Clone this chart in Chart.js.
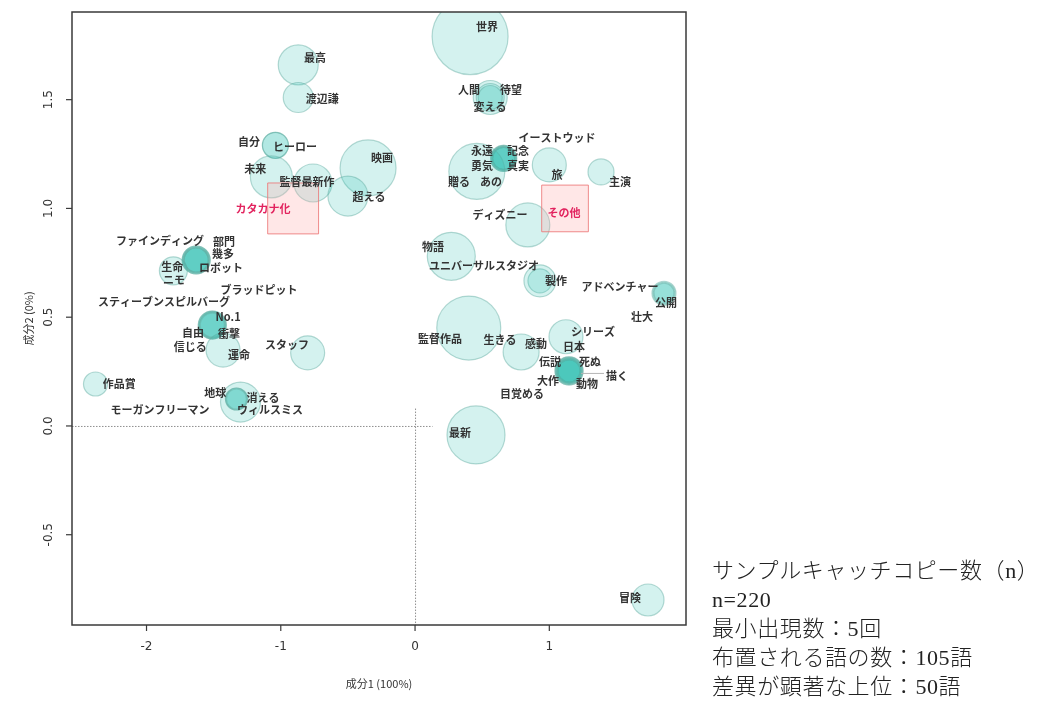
<!DOCTYPE html>
<html lang="ja">
<head>
<meta charset="utf-8">
<title>対応分析 バブルプロット</title>
<script src="https://cdn.jsdelivr.net/npm/chart.js@4/dist/chart.umd.min.js"></script>
<style>
  html, body { margin: 0; padding: 0; background: #fff; }
  #wrap { position: relative; width: 1059px; height: 702px; overflow: hidden; }
  #plot { position: absolute; left: 0; top: 0; }
  #note {
    position: absolute; left: 712px; top: 556px;
    font-family: "Liberation Serif", "Noto Sans CJK JP", serif;
    font-weight: 300; font-size: 22px; line-height: 29px; color: #222;
    letter-spacing: 0.6px; white-space: nowrap;
  }
</style>
</head>
<body>
<div id="wrap">
  <canvas id="plot" width="1059" height="702"></canvas>
  <div id="note">
    <div>サンプルキャッチコピー数（n）</div>
    <div>n=220</div>
    <div>最小出現数：5回</div>
    <div>布置される語の数：105語</div>
    <div>差異が顕著な上位：50語</div>
  </div>
</div>
<script>
// 語（行）: 座標は成分1 / 成分2、size はバブル半径
const words = [
  '世界', '最高', '渡辺謙', '自分', 'ヒーロー', '未来', '監督最新作', '映画', '超える',
  'ファインディング', '部門', '幾多', 'ロボット', 'ニモ', 'ブラッドピット', '生命',
  'スティーブンスピルバーグ', 'No.1', '自由', '衝撃', '運命', '信じる', 'スタッフ', '作品賞',
  '地球', '消える', 'ウィルスミス', 'モーガンフリーマン',
  '人間', '待望', '変える', 'イーストウッド', '旅', '永遠', '記念', '勇気', '真実', '贈る', 'あの', '主演',
  'ディズニー', '物語', 'ユニバーサルスタジオ', '製作', 'アドベンチャー', '公開', '壮大',
  '監督作品', '生きる', '感動', 'シリーズ', '日本', '伝説', '死ぬ', '大作', '動物', '描く', '目覚める',
  '最新', '冒険'
];
const comp1 = [
  0.41, -0.87, -0.87, -1.04, -1.04, -1.07, -0.76, -0.35, -0.50,
  -1.63, -1.63, -1.63, -1.63, -1.63, -1.63, -1.80,
  -1.51, -1.51, -1.51, -1.51, -1.51, -1.43, -0.80, -2.38,
  -1.30, -1.33, -1.33, -1.33,
  0.56, 0.56, 0.56, 0.66, 1.00, 0.66, 0.66, 0.66, 0.66, 0.46, 0.66, 1.385,
  0.84, 0.27, 0.93, 0.93, 1.854, 1.854, 1.854,
  0.40, 0.79, 1.147, 1.124, 1.147, 1.147, 1.147, 1.147, 1.147, 1.147, 1.147,
  0.454, 1.735
];
const comp2 = [
  1.79, 1.66, 1.51, 1.29, 1.29, 1.145, 1.117, 1.186, 1.057,
  0.763, 0.763, 0.763, 0.763, 0.763, 0.763, 0.713,
  0.464, 0.464, 0.464, 0.464, 0.464, 0.349, 0.336, 0.193,
  0.11, 0.124, 0.124, 0.124,
  1.51, 1.51, 1.51, 1.23, 1.20, 1.23, 1.23, 1.23, 1.23, 1.17, 1.23, 1.168,
  0.924, 0.78, 0.667, 0.667, 0.61, 0.61, 0.61,
  0.45, 0.34, 0.253, 0.41, 0.253, 0.253, 0.253, 0.253, 0.253, 0.253, 0.253,
  -0.041, -0.80
];
const size = [
  38, 20, 15, 13, 13, 21, 19, 28, 20,
  14, 14, 13, 13, 12, 12, 14,
  13, 14, 14, 13, 12, 17, 17, 12,
  20, 11, 11, 10,
  17, 14, 12, 11, 17, 13, 13, 12, 12, 28, 11, 13,
  22, 24, 12, 16, 12, 11, 10,
  32, 18, 12, 17, 11, 14, 14, 13, 13, 12, 11,
  29, 16
];
// ラベル位置（成分1 / 成分2）
const labelX = [
  0.536, -0.745, -0.692, -1.236, -0.894, -1.191, -0.804, -0.246, -0.343,
  -1.899, -1.422, -1.43, -1.445, -1.795, -1.162, -1.809,
  -1.869, -1.392, -1.653, -1.385, -1.311, -1.675, -0.953, -2.204,
  -1.489, -1.132, -1.080, -1.899,
  0.402, 0.715, 0.558, 1.057, 1.057, 0.499, 0.767, 0.499, 0.767, 0.328, 0.566, 1.526,
  0.633, 0.134, 0.514, 1.050, 1.526, 1.869, 1.690,
  0.186, 0.633, 0.901, 1.325, 1.184, 1.005, 1.303, 0.990, 1.281, 1.504, 0.797,
  0.335, 1.601
];
const labelY = [
  1.834, 1.692, 1.503, 1.306, 1.283, 1.182, 1.122, 1.232, 1.053,
  0.851, 0.846, 0.791, 0.726, 0.671, 0.625, 0.731,
  0.570, 0.501, 0.428, 0.423, 0.326, 0.363, 0.372, 0.193,
  0.152, 0.129, 0.074, 0.074,
  1.545, 1.545, 1.467, 1.324, 1.154, 1.264, 1.264, 1.195, 1.195, 1.122, 1.122, 1.122,
  0.970, 0.823, 0.736, 0.667, 0.639, 0.566, 0.501,
  0.400, 0.395, 0.377, 0.432, 0.363, 0.294, 0.294, 0.207, 0.193, 0.230, 0.147,
  -0.032, -0.791
];
const leaderWords = ['描く'];

// 列（カテゴリ）
const groups = ['カタカナ化', 'その他'];
const groupX = [-0.908, 1.117];
const groupY = [1.0, 1.0];
const groupSize = [36, 33];
const groupLabelX = [-1.132, 1.109];
const groupLabelY = [0.998, 0.979];

// 軸
const xMin = -2.555, xMax = 2.018;
const yMin = -0.915, yMax = 1.903;
const xTicks = [-2, -1, 0, 1];
const yTicks = [-0.5, 0, 0.5, 1, 1.5];
const xTitle = '成分1 (100%)';
const yTitle = '成分2 (0%)';
const refLineX = [xMin, 0.13];   // y=0 の点線の範囲
const refLineY = [0.08, yMin];   // x=0 の点線の範囲

const labelFont = 'bold 11px "Noto Sans CJK JP", "Noto Sans", sans-serif';
const tickFont = '12px "DejaVu Sans", sans-serif';
const titleFont = '11px "Noto Sans CJK JP", "DejaVu Sans", sans-serif';

const rAxes = {
  id: 'rAxes',
  beforeDatasetsDraw(chart) {
    const { ctx, scales: { x, y } } = chart;
    ctx.save();
    ctx.strokeStyle = '#8f8f8f';
    ctx.lineWidth = 1;
    ctx.setLineDash([1.5, 1.5]);
    ctx.beginPath();
    ctx.moveTo(x.getPixelForValue(refLineX[0]), y.getPixelForValue(0) + 0.5);
    ctx.lineTo(x.getPixelForValue(refLineX[1]), y.getPixelForValue(0) + 0.5);
    ctx.moveTo(x.getPixelForValue(0) + 0.5, y.getPixelForValue(refLineY[0]));
    ctx.lineTo(x.getPixelForValue(0) + 0.5, y.getPixelForValue(refLineY[1]));
    ctx.stroke();
    ctx.restore();
  },
  afterDatasetsDraw(chart) {
    const { ctx, scales: { x, y } } = chart;
    ctx.save();
    ctx.font = labelFont;
    ctx.textAlign = 'center';
    ctx.textBaseline = 'middle';
    // 語ラベル
    ctx.fillStyle = '#333';
    words.forEach((w, i) => {
      const lx = x.getPixelForValue(labelX[i]);
      const ly = y.getPixelForValue(labelY[i]);
      ctx.fillText(w, lx, ly);
      if (leaderWords.includes(w)) {
        const half = ctx.measureText(w).width / 2;
        ctx.strokeStyle = '#b5b5b5';
        ctx.lineWidth = 1;
        ctx.beginPath();
        ctx.moveTo(x.getPixelForValue(comp1[i]) + size[i], ly - 2.5);
        ctx.lineTo(lx - half - 2, ly - 2.5);
        ctx.stroke();
      }
    });
    // カテゴリラベル
    ctx.fillStyle = '#e2245f';
    groups.forEach((g, i) => {
      ctx.fillText(g, x.getPixelForValue(groupLabelX[i]), y.getPixelForValue(groupLabelY[i]));
    });
    ctx.restore();
  },
  afterDraw(chart) {
    const { ctx, chartArea: a, scales: { x, y } } = chart;
    ctx.save();
    // 枠
    ctx.strokeStyle = '#3a3a3a';
    ctx.lineWidth = 1.5;
    ctx.strokeRect(a.left, a.top, a.right - a.left, a.bottom - a.top);

    ctx.lineWidth = 1.2;
    ctx.fillStyle = '#333';
    ctx.font = tickFont;
    ctx.textAlign = 'center';
    ctx.textBaseline = 'middle';
    // x 目盛り
    xTicks.forEach(v => {
      const px = x.getPixelForValue(v);
      ctx.beginPath();
      ctx.moveTo(px, a.bottom);
      ctx.lineTo(px, a.bottom + 6);
      ctx.stroke();
      ctx.fillText(String(v), px, a.bottom + 22);
    });
    // y 目盛り（縦書き）
    yTicks.forEach(v => {
      const py = y.getPixelForValue(v);
      ctx.beginPath();
      ctx.moveTo(a.left, py);
      ctx.lineTo(a.left - 6, py);
      ctx.stroke();
      ctx.save();
      ctx.translate(a.left - 23, py);
      ctx.rotate(-Math.PI / 2);
      ctx.fillText(v.toFixed(1), 0, 0);
      ctx.restore();
    });
    // 軸タイトル
    ctx.font = titleFont;
    ctx.fillText(xTitle, (a.left + a.right) / 2, a.bottom + 59);
    ctx.save();
    ctx.translate(a.left - 43, (a.top + a.bottom) / 2);
    ctx.rotate(-Math.PI / 2);
    ctx.fillText(yTitle, 0, 0);
    ctx.restore();
    ctx.restore();
  }
};

new Chart(document.getElementById('plot'), {
  type: 'bubble',
  data: {
    datasets: [
      {
        label: groups.join(' / '),
        type: 'scatter',
        order: 0,
        clip: 0,
        data: groups.map((g, i) => ({ x: groupX[i], y: groupY[i] })),
        pointStyle: 'rect',
        pointRadius: groupSize,
        backgroundColor: 'rgba(255,170,170,0.28)',
        borderColor: 'rgba(236,120,120,0.85)',
        borderWidth: 1
      },
      {
        label: '語',
        order: 1,
        clip: 0,
        data: words.map((w, i) => ({ x: comp1[i], y: comp2[i], r: size[i] })),
        backgroundColor: 'rgba(40,190,175,0.2)',
        borderColor: 'rgba(95,170,160,0.45)',
        borderWidth: 1.2
      }
    ]
  },
  options: {
    responsive: false,
    devicePixelRatio: 1,
    animation: false,
    events: [],
    layout: { autoPadding: false, padding: { left: 72, top: 12, right: 373, bottom: 77 } },
    scales: {
      x: { type: 'linear', display: false, min: xMin, max: xMax },
      y: { type: 'linear', display: false, min: yMin, max: yMax }
    },
    plugins: {
      legend: { display: false },
      tooltip: { enabled: false }
    }
  },
  plugins: [rAxes]
});
</script>
</body>
</html>
